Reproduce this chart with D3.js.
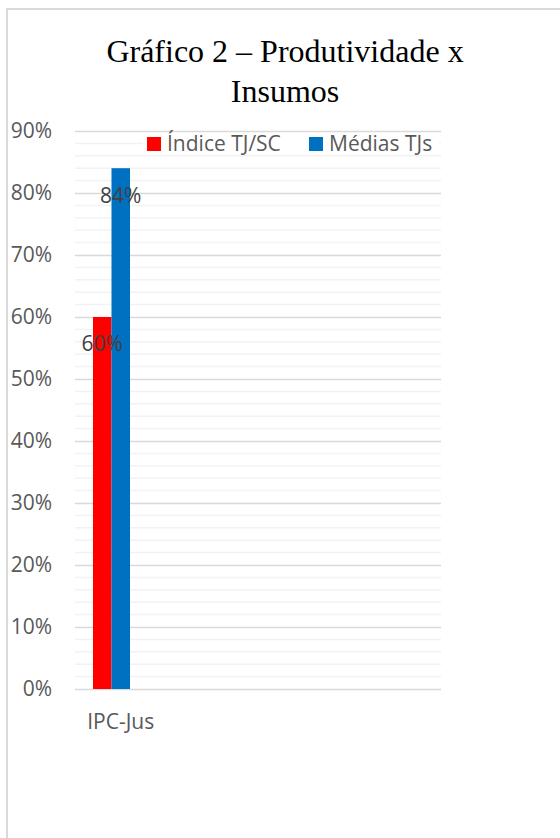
<!DOCTYPE html>
<html>
<head>
<meta charset="utf-8">
<script src="https://cdn.jsdelivr.net/npm/d3@7"></script>
<style>
  html, body { margin: 0; padding: 0; background: #fff; }
  svg { display: block; }
</style>
</head>
<body>
<svg id="chart" width="560" height="838"></svg>
<script>
// ---- data ----
const titleLines = ["Gráfico 2 – Produtividade x", "Insumos"];
const categories = ["IPC-Jus", "", "", ""];
const seriesNames = ["Índice TJ/SC", "Médias TJs", ""];
const seriesColors = ["#ff0000", "#0070c0", "#a5a5a5"];
const indiceTJSC = [0.60, null, null, null];
const mediasTJs = [0.84, null, null, null];
const emptySeries = [null, null, null, null];
const yTicks = [0, 0.1, 0.2, 0.3, 0.4, 0.5, 0.6, 0.7, 0.8, 0.9];
const yMinorTicks = d3.range(0, 91, 2).map(v => v / 100);
const seriesValues = [indiceTJSC, mediasTJs, emptySeries];

// ---- layout ----
const svg = d3.select("#chart");
const plot = { left: 75, right: 441, top: 131, bottom: 689 };
const axisFont = "'Open Sans', 'Noto Sans', sans-serif";
const fs = 21;

// chart border
svg.append("path")
  .attr("d", "M7,838 V9 H560")
  .attr("fill", "none")
  .attr("stroke", "#d9d9d9")
  .attr("stroke-width", 2);

// title
svg.append("g").selectAll("text").data(titleLines).join("text")
  .attr("x", 285)
  .attr("y", (d, i) => 62 + i * 40)
  .attr("text-anchor", "middle")
  .attr("font-family", "'Liberation Serif', 'Times New Roman', serif")
  .attr("font-size", 32)
  .attr("fill", "#000")
  .text(d => d);

// scales
const y = d3.scaleLinear().domain([0, 0.9]).range([plot.bottom, plot.top]);
const x0 = d3.scaleBand().domain(d3.range(categories.length))
  .range([plot.left, plot.right]).paddingInner(0.393).paddingOuter(0.1965);
const x1 = d3.scaleBand().domain(d3.range(seriesNames.length))
  .range([0, x0.bandwidth()]).padding(0);

// minor gridlines
svg.append("g").selectAll("line").data(yMinorTicks.filter(v => !yTicks.some(t => Math.abs(t - v) < 1e-9))).join("line")
  .attr("x1", plot.left).attr("x2", plot.right)
  .attr("y1", d => y(d)).attr("y2", d => y(d))
  .attr("stroke", "#f2f2f2").attr("stroke-width", 1.5);

// major gridlines via axis
const yAxis = d3.axisLeft(y).tickValues(yTicks).tickFormat(d3.format(".0%"))
  .tickSize(-(plot.right - plot.left)).tickPadding(23);
const gy = svg.append("g").attr("transform", `translate(${plot.left},0)`).call(yAxis);
gy.select(".domain").remove();
gy.selectAll(".tick line").attr("stroke", "#d9d9d9").attr("stroke-width", 1.5);
gy.selectAll(".tick text")
  .attr("font-family", axisFont).attr("font-size", fs).attr("fill", "#595959");

// x axis labels
const xAxis = d3.axisBottom(x0).tickFormat(i => categories[i]).tickSize(0).tickPadding(25);
const gx = svg.append("g").attr("transform", `translate(0,${plot.bottom})`).call(xAxis);
gx.select(".domain").remove();
gx.selectAll(".tick text")
  .attr("font-family", axisFont).attr("font-size", fs).attr("fill", "#595959");

// bars
const rows = [];
seriesValues.forEach((vals, s) => vals.forEach((v, c) => { if (v != null) rows.push({ s, c, v }); }));
svg.append("g").selectAll("rect").data(rows).join("rect")
  .attr("x", d => x0(d.c) + x1(d.s))
  .attr("width", x1.bandwidth())
  .attr("y", d => y(d.v))
  .attr("height", d => y(0) - y(d.v))
  .attr("fill", d => seriesColors[d.s]);

// data labels (inside end)
svg.append("g").selectAll("text").data(rows).join("text")
  .attr("x", d => x0(d.c) + x1(d.s) + x1.bandwidth() / 2)
  .attr("y", d => y(d.v) + 27)
  .attr("dy", "0.35em")
  .attr("text-anchor", "middle")
  .attr("font-family", axisFont).attr("font-size", fs).attr("fill", "#404040")
  .text(d => d3.format(".0%")(d.v));

// legend
const legendItems = seriesNames.map((n, i) => ({ n, i })).filter(d => d.n !== "");
const lg = svg.append("g");
lg.append("rect").attr("x", 143).attr("y", 134).attr("width", 296).attr("height", 20).attr("fill", "#fff");
const legendX = [147, 309];
const items = lg.selectAll("g").data(legendItems).join("g")
  .attr("transform", (d, k) => `translate(${legendX[k]},137)`);
items.append("rect").attr("width", 14).attr("height", 14).attr("fill", d => seriesColors[d.i]);
items.append("text").attr("x", 20).attr("y", 7).attr("dy", "0.35em")
  .attr("font-family", axisFont).attr("font-size", fs).attr("fill", "#595959")
  .text(d => d.n);
</script>
</body>
</html>
